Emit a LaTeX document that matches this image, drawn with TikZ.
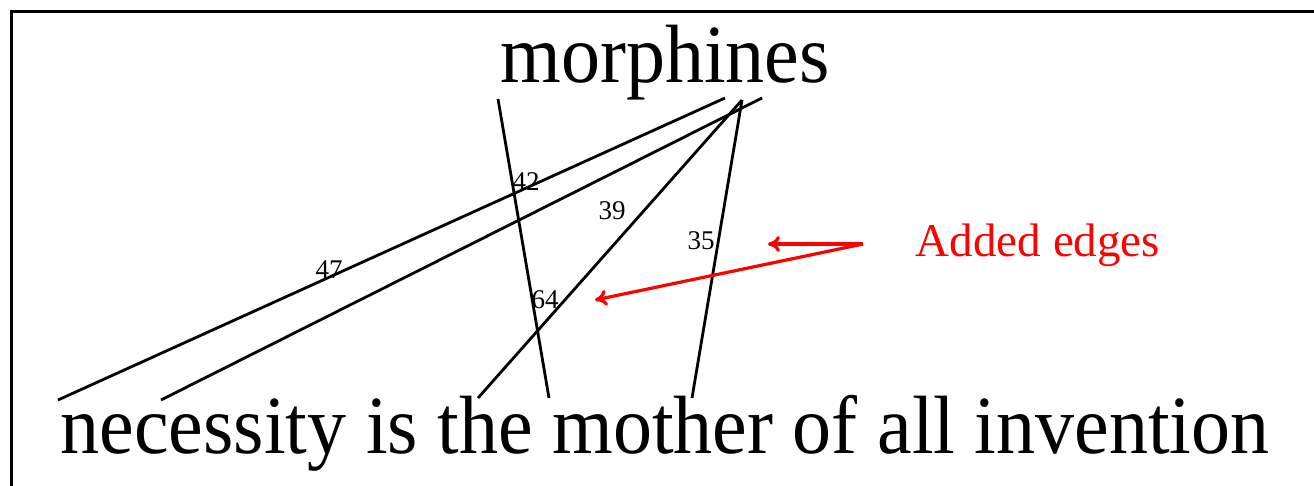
\documentclass[tikz,border=0pt]{standalone}
\usepackage{fontspec}
\setmainfont{Liberation Serif}
\usetikzlibrary{arrows.meta}
\begin{document}
\begin{tikzpicture}[x=1pt,y=-1pt,
  edge/.style={line width=2.8pt},
  wordtext/.style={inner sep=0pt, font=\fontsize{78}{80}\selectfont},
  weight/.style={inner sep=0pt, font=\fontsize{27}{28}\selectfont},
  added/.style={red, line width=3.2pt, -{To[length=12pt,width=16pt]}},
  note/.style={inner sep=0pt, red, font=\fontsize{47}{48}\selectfont},
]
\useasboundingbox (0,0) rectangle (1314,486);
\draw[line width=3pt] (11.5,486) -- (11.5,11.5) -- (1314,11.5);
\node[wordtext, anchor=base] (top) at (665,83) {\scalebox{1}[1.06]{morphines}};
\node[wordtext, anchor=base] (sent) at (665,453) {\scalebox{1}[1.06]{necessity is the mother of all invention}};
% edge ends
\coordinate (a1) at (498,99);  \coordinate (a2) at (549,398);
\coordinate (b1) at (725,98);  \coordinate (b2) at (58,400);
\coordinate (c1) at (762,98);  \coordinate (c2) at (161,400);
\coordinate (d1) at (742,100); \coordinate (d2) at (478,398);
\coordinate (e1) at (742,100); \coordinate (e2) at (692,398);
\draw[edge] (a1) -- (a2);
\draw[edge] (b1) -- (b2);
\draw[edge] (c1) -- (c2);
\draw[edge] (d1) -- (d2);
\draw[edge] (e1) -- (e2);
\node[weight] (w42) at (526,182) {42};
\node[weight] (w39) at (612,211) {39};
\node[weight] (w35) at (701,241) {35};
\node[weight] (w64) at (545,300) {64};
\node[weight] (w47) at (329,270) {47};
\node[note, anchor=base] (lbl) at (1038,257) {Added edges};
\coordinate (src) at (863,244);
\coordinate (t1) at (768,244);
\coordinate (t2) at (595,300);
\draw[added] (src) -- (t1);
\draw[added] (src) -- (t2);
\end{tikzpicture}
\end{document}
